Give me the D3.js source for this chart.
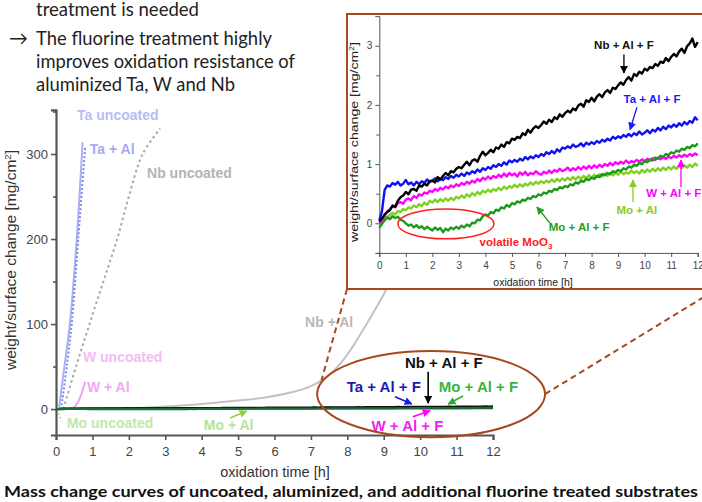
<!DOCTYPE html>
<html>
<head>
<meta charset="utf-8">
<script src="https://cdn.jsdelivr.net/npm/d3@7"></script>
<style>
  body { margin: 0; background: #fff; }
  svg { display: block; }
  .ax path, .ax line { stroke: #555; }
  .ax text { fill: #444; font-family: "Liberation Sans", Arial, sans-serif; }
</style>
</head>
<body>
<script>

// ---- main chart curves: [time h, mass change mg/cm2] ----
var ta_uncoated = [[0.08,0],[0.2,40],[0.38,100],[0.57,200],[0.73,314]];
var ta_al = [[0.14,0],[0.28,45],[0.43,100],[0.61,200],[0.8,308]];
var nb_uncoated = [[0.2,0],[0.55,50],[0.92,100],[1.3,150],[1.68,200],[2.0,250],[2.38,300],[2.86,330]];
var nb_al = [[0,0],[1,0.2],[2,0.8],[3,3],[4,6],[5,10],[5.8,14],[6.5,20],[7,27],[7.3,34],[7.6,44],[8,64],[8.5,98],[9,135],[9.4,170],[9.8,210]];
var w_al = [[0.38,0],[0.5,2],[0.6,8],[0.7,18],[0.8,32]];
var mo_uncoated = [[0.05,0],[0.15,-15]];

// ---- inset series, sampled every 0.1 h from 0 to 12 h ----
var inset_times = d3.range(121).map(function (i) { return i / 10; });

var nb_al_f = [0.03,0.08,0.15,0.19,0.22,0.30,0.28,0.38,0.44,0.47,
  0.53,0.49,0.57,0.58,0.55,0.64,0.62,0.67,0.64,0.71,
  0.72,0.69,0.78,0.74,0.80,0.85,0.81,0.88,0.86,0.92,
  0.95,0.93,0.99,1.04,0.98,1.06,1.08,1.04,1.14,1.21,
  1.15,1.19,1.24,1.20,1.28,1.26,1.33,1.29,1.37,1.35,
  1.43,1.41,1.46,1.44,1.52,1.49,1.58,1.53,1.60,1.64,
  1.61,1.66,1.72,1.68,1.75,1.71,1.79,1.76,1.84,1.80,
  1.86,1.90,1.87,1.94,1.91,1.99,2.02,1.97,2.08,2.05,
  2.12,2.06,2.14,2.18,2.13,2.21,2.25,2.20,2.29,2.27,
  2.33,2.38,2.34,2.42,2.47,2.41,2.52,2.49,2.56,2.53,
  2.61,2.58,2.64,2.62,2.69,2.66,2.73,2.71,2.79,2.74,
  2.81,2.86,2.82,2.90,2.95,2.88,2.99,3.04,3.12,2.98,
  3.06];
var ta_al_f = [0.05,0.20,0.56,0.64,0.62,0.68,0.65,0.70,0.64,0.67,
  0.73,0.66,0.69,0.64,0.70,0.66,0.71,0.68,0.74,0.70,
  0.72,0.76,0.71,0.75,0.73,0.78,0.75,0.80,0.77,0.82,
  0.79,0.84,0.80,0.86,0.83,0.88,0.85,0.91,0.87,0.93,
  0.90,0.95,0.92,0.98,0.95,1.00,0.97,1.03,0.99,1.06,
  1.03,1.07,1.04,1.09,1.06,1.12,1.08,1.13,1.10,1.15,
  1.12,1.17,1.14,1.20,1.17,1.22,1.18,1.25,1.21,1.28,
  1.26,1.30,1.27,1.33,1.29,1.31,1.35,1.30,1.36,1.33,
  1.37,1.34,1.39,1.36,1.41,1.38,1.43,1.40,1.46,1.43,
  1.47,1.44,1.49,1.46,1.51,1.47,1.52,1.49,1.55,1.50,
  1.53,1.57,1.52,1.58,1.55,1.61,1.57,1.63,1.59,1.65,
  1.62,1.67,1.63,1.69,1.65,1.71,1.67,1.73,1.70,1.79,
  1.74];
var w_al_f = [0.00,0.06,0.12,0.20,0.24,0.29,0.27,0.34,0.36,0.33,
  0.40,0.42,0.39,0.46,0.43,0.49,0.47,0.52,0.50,0.55,
  0.53,0.58,0.55,0.60,0.57,0.62,0.59,0.64,0.61,0.66,
  0.63,0.68,0.65,0.70,0.67,0.72,0.69,0.75,0.71,0.77,
  0.74,0.79,0.75,0.80,0.77,0.82,0.78,0.84,0.79,0.85,
  0.81,0.84,0.79,0.86,0.82,0.87,0.81,0.85,0.83,0.88,
  0.84,0.82,0.87,0.84,0.89,0.85,0.90,0.87,0.92,0.88,
  0.90,0.94,0.89,0.93,0.90,0.95,0.91,0.96,0.92,0.97,
  0.93,0.98,0.94,0.99,0.95,1.00,0.97,1.02,0.98,1.03,
  1.00,1.04,1.01,1.06,1.02,1.05,1.03,1.07,1.04,1.08,
  1.05,1.09,1.06,1.10,1.07,1.11,1.08,1.12,1.09,1.13,
  1.10,1.14,1.11,1.15,1.12,1.16,1.13,1.17,1.14,1.18,
  1.15];
var mo_al = [-0.05,-0.02,0.06,0.10,0.14,0.18,0.15,0.21,0.19,0.24,
  0.22,0.27,0.25,0.30,0.27,0.32,0.29,0.35,0.31,0.38,
  0.35,0.40,0.36,0.41,0.37,0.42,0.38,0.43,0.39,0.45,
  0.42,0.47,0.43,0.49,0.45,0.51,0.47,0.53,0.49,0.55,
  0.52,0.57,0.53,0.58,0.55,0.60,0.56,0.62,0.58,0.63,
  0.60,0.65,0.61,0.66,0.62,0.67,0.64,0.69,0.65,0.70,
  0.67,0.71,0.68,0.72,0.69,0.74,0.70,0.75,0.71,0.76,
  0.72,0.77,0.73,0.78,0.74,0.79,0.75,0.80,0.76,0.81,
  0.77,0.82,0.78,0.83,0.79,0.84,0.80,0.85,0.81,0.86,
  0.82,0.87,0.83,0.86,0.84,0.89,0.85,0.88,0.84,0.90,
  0.86,0.91,0.87,0.92,0.88,0.93,0.89,0.94,0.90,0.95,
  0.91,0.96,0.92,0.97,0.93,0.98,0.94,0.99,0.95,1.01,
  0.97];
var mo_al_f = [-0.08,0.00,0.05,0.10,0.07,0.12,0.09,0.11,0.06,0.04,
  0.00,-0.04,-0.02,-0.07,-0.03,-0.08,-0.05,-0.10,-0.06,-0.09,
  -0.12,-0.07,-0.11,-0.08,-0.15,-0.09,-0.12,-0.07,-0.10,-0.06,
  -0.09,-0.04,-0.07,-0.02,-0.05,0.01,0.00,0.06,0.05,0.12,
  0.15,0.13,0.19,0.17,0.23,0.21,0.27,0.25,0.31,0.28,
  0.34,0.32,0.37,0.35,0.40,0.38,0.43,0.41,0.46,0.44,
  0.49,0.47,0.52,0.50,0.55,0.53,0.58,0.56,0.61,0.59,
  0.63,0.61,0.66,0.64,0.69,0.67,0.72,0.70,0.75,0.73,
  0.77,0.75,0.80,0.78,0.83,0.81,0.85,0.83,0.88,0.86,
  0.90,0.88,0.93,0.91,0.96,0.94,0.99,0.97,1.02,1.00,
  1.05,1.03,1.08,1.06,1.11,1.09,1.14,1.12,1.17,1.15,
  1.20,1.18,1.23,1.21,1.26,1.24,1.29,1.27,1.32,1.30,
  1.35];

var main_x_ticks = [0,1,2,3,4,5,6,7,8,9,10,11,12];
var main_y_ticks = [0,100,200,300];
var main_y_minor = [50,150,250,350];
var inset_x_ticks = [0,1,2,3,4,5,6,7,8,9,10,11,12];
var inset_y_ticks = [0,1,2,3];
var inset_y_minor = [-0.5,0.5,1.5,2.5];

var bullet_lines = ["treatment is needed", "The fluorine treatment highly",
  "improves oxidation resistance of", "aluminized Ta, W and Nb"];
var caption = "Mass change curves of uncoated, aluminized, and additional fluorine treated substrates";

var svg = d3.select("body").append("svg").attr("width", 702).attr("height", 502);

var defs = svg.append("defs");
function marker(id, color, size) {
  defs.append("marker").attr("id", id)
    .attr("viewBox", "0 0 10 10").attr("refX", 9).attr("refY", 5)
    .attr("markerWidth", size).attr("markerHeight", size)
    .attr("markerUnits", "userSpaceOnUse").attr("orient", "auto")
    .append("path").attr("d", "M0,0 L10,5 L0,10 z").attr("fill", color);
}
var arrow_colors = {black: "#000", blue: "#1a1ae6", green: "#33aa33", magenta: "#ff00ff", lime: "#8cd43c", ta: "#1a1aff", w: "#ff00ff", mo: "#86cc22", mof: "#22a022"};
Object.keys(arrow_colors).forEach(function (k) { marker("ar_" + k, arrow_colors[k], 8); });

// ---- slide text ----
var sans = "Lato, 'Open Sans', sans-serif";
var txt = svg.append("g").attr("font-family", sans).attr("font-size", 19).attr("fill", "#222");
var bullet_pos = [[36,16,163],[36,45,236],[36,68,259],[36,91,199]];
bullet_lines.forEach(function (t, i) {
  txt.append("text").attr("x", bullet_pos[i][0]).attr("y", bullet_pos[i][1])
    .attr("textLength", bullet_pos[i][2]).attr("lengthAdjust", "spacingAndGlyphs").text(t);
});
txt.append("text").attr("x", 9).attr("y", 45).text("\u2192");

svg.append("text").attr("x", 4).attr("y", 497).attr("font-family", sans).attr("font-weight", "bold")
  .attr("font-size", 16).attr("fill", "#111").attr("textLength", 694).attr("lengthAdjust", "spacingAndGlyphs")
  .text(caption);

// ---- main chart ----
var x = d3.scaleLinear().domain([0, 12]).range([56, 493]);
var y = d3.scaleLinear().domain([-30.5, 352]).range([435, 109.8]);

var gx = svg.append("g").attr("class", "ax").attr("transform", "translate(0," + y(-30.5) + ")")
  .call(d3.axisBottom(x).tickValues(main_x_ticks).tickSize(5).tickPadding(7).tickFormat(d3.format("d")));
gx.selectAll("text").attr("font-size", 13);
var gy = svg.append("g").attr("class", "ax").attr("transform", "translate(" + x(0) + ",0)")
  .call(d3.axisLeft(y).tickValues(main_y_ticks).tickSize(5).tickPadding(3).tickFormat(d3.format("d")));
gy.selectAll("text").attr("font-size", 13);
svg.append("g").attr("class", "ax").attr("transform", "translate(" + x(0) + ",0)")
  .call(d3.axisLeft(y).tickValues(main_y_minor).tickSize(3).tickFormat(""))
  .select(".domain").remove();
svg.selectAll(".ax .domain").attr("stroke-width", 2.2);
svg.selectAll(".ax line").attr("stroke-width", 1.6);

svg.append("text").attr("x", 275).attr("y", 477).attr("text-anchor", "middle")
  .attr("font-family", "'Liberation Sans', Arial, sans-serif").attr("font-size", 14.5).attr("fill", "#333")
  .text("oxidation time [h]");
var ylab = svg.append("text").attr("transform", "translate(16,260) rotate(-90)").attr("text-anchor", "middle")
  .attr("font-family", "'Liberation Sans', Arial, sans-serif").attr("font-size", 14.5).attr("fill", "#333")
  .attr("textLength", 220).attr("lengthAdjust", "spacingAndGlyphs");
ylab.append("tspan").text("weight/surface change [mg/cm");
ylab.append("tspan").attr("font-size", 9).attr("dy", -5).text("2");
ylab.append("tspan").attr("dy", 5).text("]");

var line = d3.line().x(function (d) { return x(d[0]); }).y(function (d) { return y(d[1]); }).curve(d3.curveCatmullRom);

svg.append("path").datum(nb_al).attr("d", line).attr("fill", "none").attr("stroke", "#c2c2c2").attr("stroke-width", 2);
svg.append("path").datum(nb_uncoated).attr("d", line).attr("fill", "none").attr("stroke", "#a8a8a8")
  .attr("stroke-width", 2).attr("stroke-dasharray", "2.5,3");
svg.append("path").datum(ta_uncoated).attr("d", line).attr("fill", "none").attr("stroke", "#aab0f2").attr("stroke-width", 2);
svg.append("path").datum(ta_al).attr("d", line).attr("fill", "none").attr("stroke", "#8088ea")
  .attr("stroke-width", 2).attr("stroke-dasharray", "2,2");
svg.append("path").datum(w_al).attr("d", line).attr("fill", "none").attr("stroke", "#f2a2f2").attr("stroke-width", 2);
svg.append("path").datum(mo_uncoated).attr("d", line).attr("fill", "none").attr("stroke", "#bde6a8")
  .attr("stroke-width", 2).attr("stroke-dasharray", "2,2");

// treated samples stay near zero on the big scale
var inset_series = [
  {name: "mo_al", values: mo_al, color: "#80d020"},
  {name: "w_al_f", values: w_al_f, color: "#ff00ff"},
  {name: "ta_al_f", values: ta_al_f, color: "#1010f0"},
  {name: "nb_al_f", values: nb_al_f, color: "#000000"},
  {name: "mo_al_f", values: mo_al_f, color: "#1d9a1d"}
];
var zero_color = {mo_al: "#8fd66a", w_al_f: "#ff00ff", ta_al_f: "#1010f0", nb_al_f: "#111", mo_al_f: "#1a6b35"};
inset_series.forEach(function (s) {
  svg.append("path").datum(s.values)
    .attr("d", d3.line().x(function (d, i) { return x(inset_times[i]); }).y(function (d) { return y(d); }))
    .attr("fill", "none").attr("stroke", zero_color[s.name]).attr("stroke-width", 2.2);
});

// labels on the big chart: [text, h, value, color, anchor, size]
var main_labels = [
  ["Ta uncoated", 0.58, 340, "#b8bcf4", "start", 14],
  ["Ta + Al", 0.93, 300, "#a6acf0", "start", 14],
  ["Nb uncoated", 2.5, 272, "#b4b4b4", "start", 14],
  ["Nb + Al", 6.84, 96.5, "#b8b8b8", "start", 14],
  ["W uncoated", 0.74, 55.3, "#f4bcf4", "start", 14],
  ["W + Al", 0.85, 20, "#f2a8f2", "start", 14],
  ["Mo uncoated", 0.3, -22.4, "#bfe8aa", "start", 14],
  ["Mo + Al", 4.06, -24.7, "#b4e49a", "start", 14],
  ["Nb + Al + F", 10.65, 48, "#111", "middle", 15],
  ["Ta + Al + F", 9.0, 20, "#1a1ab4", "middle", 15],
  ["Mo + Al + F", 11.6, 20, "#3cb43c", "middle", 15],
  ["W + Al + F", 9.65, -25.3, "#ee22ee", "middle", 15]
];
svg.append("g").selectAll("text").data(main_labels).enter().append("text")
  .attr("x", function (d) { return x(d[1]); }).attr("y", function (d) { return y(d[2]); })
  .attr("text-anchor", function (d) { return d[4]; }).attr("fill", function (d) { return d[3]; })
  .attr("font-size", function (d) { return d[5]; }).attr("font-weight", "bold")
  .attr("font-family", "'Liberation Sans', Arial, sans-serif")
  .text(function (d) { return d[0]; });

// arrows: [h1, v1, h2, v2, marker]
var main_arrows = [
  [10.22, 43.9, 10.22, 7, "black"],
  [9.31, 14.5, 9.77, 5.9, "blue"],
  [11.18, 15.3, 10.77, 5.9, "green"],
  [9.8, -9.1, 10.27, -2, "magenta"],
  [4.78, -10.6, 5.24, -2.4, "lime"]
];
svg.append("g").selectAll("line").data(main_arrows).enter().append("line")
  .attr("x1", function (d) { return x(d[0]); }).attr("y1", function (d) { return y(d[1]); })
  .attr("x2", function (d) { return x(d[2]); }).attr("y2", function (d) { return y(d[3]); })
  .attr("stroke", function (d) { return arrow_colors[d[4]]; }).attr("stroke-width", 1.6)
  .attr("marker-end", function (d) { return "url(#ar_" + d[4] + ")"; });

// ellipse around the treated curves
var ell = {h: 10.3, v: 17.6, dh: 3.13, dv: 50.6};
var brown = "#a8481c";
var ecx = x(ell.h), ecy = y(ell.v), erx = x(ell.h + ell.dh) - ecx, ery = y(ell.v - ell.dv) - ecy;
svg.append("ellipse").attr("cx", ecx).attr("cy", ecy).attr("rx", erx).attr("ry", ery)
  .attr("fill", "none").attr("stroke", brown).attr("stroke-width", 2);

// ---- inset ----
var box = {x0: 347, y0: 14, x1: 717, y1: 289};
svg.append("rect").attr("x", box.x0).attr("y", box.y0).attr("width", box.x1 - box.x0).attr("height", box.y1 - box.y0)
  .attr("fill", "#fff").attr("stroke", brown).attr("stroke-width", 2);

svg.append("line").attr("x1", box.x0).attr("y1", box.y1).attr("x2", x(7.29)).attr("y2", y(34))
  .attr("stroke", brown).attr("stroke-width", 2).attr("stroke-dasharray", "6,4");
svg.append("line").attr("x1", ecx + erx).attr("y1", ecy).attr("x2", box.x1).attr("y2", box.y1)
  .attr("stroke", brown).attr("stroke-width", 2).attr("stroke-dasharray", "6,4");

var xi = d3.scaleLinear().domain([0, 12]).range([379.3, 697.7]);
var yi = d3.scaleLinear().domain([-0.5, 3.5]).range([252.9, 16.1]);

var gxi = svg.append("g").attr("class", "ax").attr("transform", "translate(0," + yi(-0.5) + ")")
  .call(d3.axisBottom(xi).tickValues(inset_x_ticks).tickSize(4).tickPadding(5).tickFormat(d3.format("d")));
gxi.selectAll("text").attr("font-size", 10).attr("fill", "#222");
var gyi = svg.append("g").attr("class", "ax").attr("transform", "translate(" + xi(0) + ",0)")
  .call(d3.axisLeft(yi).tickValues(inset_y_ticks).tickSize(4).tickPadding(3).tickFormat(d3.format("d")));
gyi.selectAll("text").attr("font-size", 10).attr("fill", "#222");
svg.append("g").attr("class", "ax").attr("transform", "translate(" + xi(0) + ",0)")
  .call(d3.axisLeft(yi).tickValues(inset_y_minor).tickSize(3).tickFormat(""))
  .select(".domain").remove();

svg.append("text").attr("x", 533).attr("y", 286).attr("text-anchor", "middle")
  .attr("font-family", "'Liberation Sans', Arial, sans-serif").attr("font-size", 10.5).attr("fill", "#222")
  .text("oxidation time [h]");
var ylabi = svg.append("text").attr("transform", "translate(358,142) rotate(-90)").attr("text-anchor", "middle")
  .attr("font-family", "'Liberation Sans', Arial, sans-serif").attr("font-size", 11.5).attr("fill", "#222")
  .attr("textLength", 200).attr("lengthAdjust", "spacingAndGlyphs");
ylabi.append("tspan").text("weight/surface change [mg/cm");
ylabi.append("tspan").attr("font-size", 7).attr("dy", -4).text("2");
ylabi.append("tspan").attr("dy", 4).text("]");

var inset_line = d3.line().x(function (d, i) { return xi(inset_times[i]); }).y(function (d) { return yi(d); });
svg.append("g").selectAll("path").data(inset_series).enter().append("path")
  .attr("d", function (d) { return inset_line(d.values); })
  .attr("fill", "none").attr("stroke", function (d) { return d.color; })
  .attr("stroke-width", 2.4).attr("stroke-linejoin", "round");

// inset labels: [text, h, value, color]
var inset_labels = [
  ["Nb + Al + F", 9.22, 2.94, "#111"],
  ["Ta + Al + F", 10.28, 2.03, "#1a1aff"],
  ["W + Al + F", 11.1, 0.44, "#ff00ff"],
  ["Mo + Al", 9.71, 0.16, "#86cc22"],
  ["Mo + Al + F", 7.53, -0.13, "#22a022"]
];
svg.append("g").selectAll("text").data(inset_labels).enter().append("text")
  .attr("x", function (d) { return xi(d[1]); }).attr("y", function (d) { return yi(d[2]); })
  .attr("text-anchor", "middle").attr("fill", function (d) { return d[3]; })
  .attr("font-size", 11.5).attr("font-weight", "bold")
  .attr("font-family", "'Liberation Sans', Arial, sans-serif")
  .text(function (d) { return d[0]; });

var inset_arrows = [
  [9.22, 2.85, 9.22, 2.54, "black"],
  [9.71, 1.96, 9.45, 1.58, "ta"],
  [11.37, 0.61, 11.37, 1.07, "w"],
  [9.56, 0.36, 9.56, 0.73, "mo"],
  [6.43, 0.005, 5.94, 0.275, "mof"]
];
svg.append("g").selectAll("line").data(inset_arrows).enter().append("line")
  .attr("x1", function (d) { return xi(d[0]); }).attr("y1", function (d) { return yi(d[1]); })
  .attr("x2", function (d) { return xi(d[2]); }).attr("y2", function (d) { return yi(d[3]); })
  .attr("stroke", function (d) { return arrow_colors[d[4]]; }).attr("stroke-width", 1.3)
  .attr("marker-end", function (d) { return "url(#ar_" + d[4] + ")"; });

// volatile MoO3 region
var red_ell = {h: 2.51, v: -0.01, dh: 1.81, dv: 0.253};
svg.append("ellipse").attr("cx", xi(red_ell.h)).attr("cy", yi(red_ell.v))
  .attr("rx", xi(red_ell.h + red_ell.dh) - xi(red_ell.h)).attr("ry", yi(red_ell.v - red_ell.dv) - yi(red_ell.v))
  .attr("fill", "none").attr("stroke", "#ff2020").attr("stroke-width", 1.5);
var vol = svg.append("text").attr("x", xi(5.15)).attr("y", yi(-0.38)).attr("text-anchor", "middle")
  .attr("fill", "#ff1a1a").attr("font-size", 11.5).attr("font-weight", "bold")
  .attr("font-family", "'Liberation Sans', Arial, sans-serif");
vol.append("tspan").text("volatile MoO");
vol.append("tspan").attr("font-size", 8).attr("dy", 3).text("3");

</script>
</body>
</html>
